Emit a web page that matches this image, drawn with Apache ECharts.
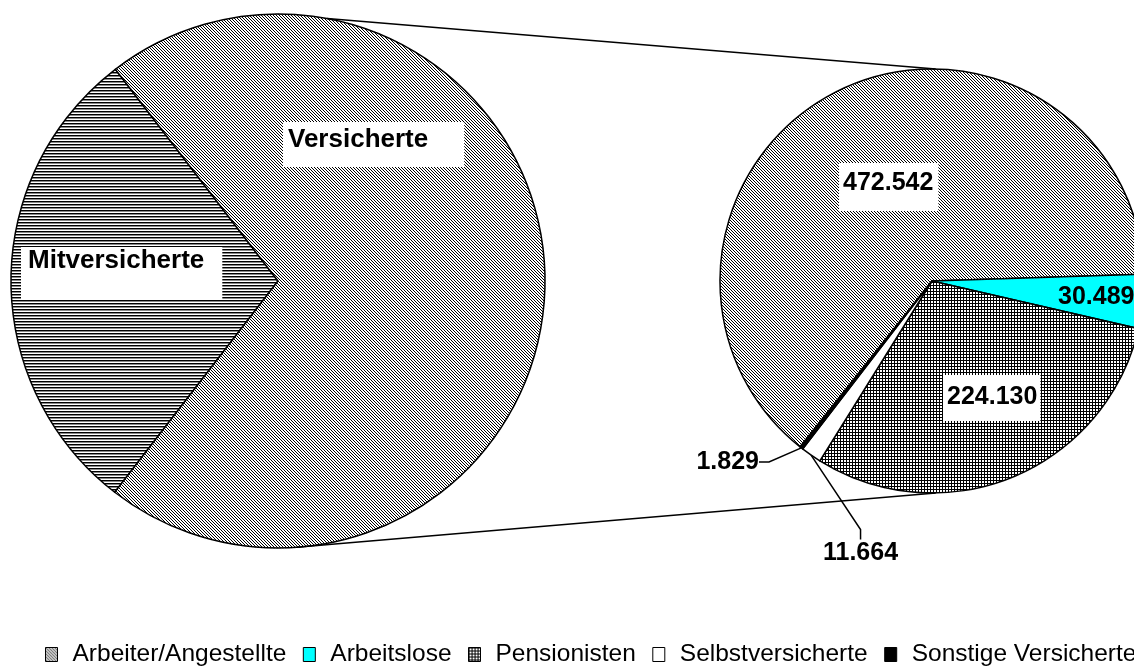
<!DOCTYPE html>
<html>
<head>
<meta charset="utf-8">
<script src="https://cdn.jsdelivr.net/npm/echarts@6/dist/echarts.min.js"></script>
<style>
  html, body { margin: 0; padding: 0; background: #fff; }
  #mychart { width: 1134px; height: 666px; }
</style>
</head>
<body>
<div id="mychart"></div>
<script>
// data
var mainNames = ['Mitversicherte', 'Versicherte'];
var mitValue = 304000;
var groupNames = ['Arbeiter/Angestellte', 'Arbeitslose', 'Pensionisten', 'Selbstversicherte', 'Sonstige Versicherte'];
var groupValues = [472542, 30489, 224130, 11664, 1829];

var versValue = 0;
for (var i = 0; i < groupValues.length; i++) versValue += groupValues[i];

// pie geometry
var leftCenter = [278, 281], leftR = 267;
var rightCenter = [932, 281], rightR = 212;

function tile(w, h, fn) {
    var c = document.createElement('canvas');
    c.width = w; c.height = h;
    var ctx = c.getContext('2d');
    ctx.fillStyle = '#fff';
    ctx.fillRect(0, 0, w, h);
    for (var y = 0; y < h; y++) {
        for (var x = 0; x < w; x++) {
            var col = fn(x, y);
            if (col) { ctx.fillStyle = col; ctx.fillRect(x, y, 1, 1); }
        }
    }
    return {image: c, repeat: 'repeat'};
}

var diagPat = tile(3, 3, function (x, y) { return (x - y + 3) % 3 === 0 ? '#000' : null; });
var horizPat = tile(1, 3, function (x, y) { return y === 0 ? '#000' : (y === 1 ? '#888' : null); });
var gridPat = tile(3, 3, function (x, y) { return (x === 0 || y === 0) ? '#000' : null; });

var groupColors = [diagPat, '#00ffff', gridPat, '#ffffff', '#000000'];

function fmt(v) {
    return String(v).replace(/\B(?=(\d{3})+(?!\d))/g, '.');
}

var FONT = 'Liberation Sans, Arial, sans-serif';
var nameFont = {fontFamily: FONT, fontWeight: 'bold', fontSize: 26, lineHeight: 28, color: '#000'};
var numFont = {fontFamily: FONT, fontWeight: 'bold', fontSize: 25, lineHeight: 27, color: '#000'};

function boxLabel(font, pad) {
    return Object.assign({
        show: true,
        position: 'inside',
        backgroundColor: '#fff',
        padding: pad
    }, font);
}

// label anchor spots (box top-left or text anchor)
var leftLabelPos = [
    {x: 21, y: 247, align: 'left', verticalAlign: 'top'},
    {x: 283, y: 122, align: 'left', verticalAlign: 'top'}
];
var rightLabelPos = [
    {x: 839, y: 163, align: 'left', verticalAlign: 'top'},
    {x: 1058, y: 297, align: 'left', verticalAlign: 'middle'},
    {x: 943, y: 375, align: 'left', verticalAlign: 'top'},
    {x: 823, y: 553, align: 'left', verticalAlign: 'middle'},
    {x: 759, y: 462, align: 'right', verticalAlign: 'middle'}
];

var leftData = [
    {name: mainNames[0], value: mitValue, itemStyle: {color: horizPat},
        label: Object.assign(boxLabel(nameFont, [0, 18, 24, 7]), {formatter: '{b}'})},
    {name: mainNames[1], value: versValue, itemStyle: {color: diagPat},
        label: Object.assign(boxLabel(nameFont, [4, 36, 13, 5]), {formatter: '{b}'})}
];

var rightPads = [[7, 5, 14, 4], null, [9, 3, 10, 4], null, null];
var rightData = groupNames.map(function (n, i) {
    var d = {name: n, value: groupValues[i], itemStyle: {color: groupColors[i]}};
    if (rightPads[i]) {
        d.label = boxLabel(numFont, rightPads[i]);
    } else if (i === 1) {
        d.label = Object.assign({show: true, position: 'inside'}, numFont);
    } else {
        d.label = Object.assign({show: true, position: 'outside'}, numFont);
        d.labelLine = {show: true, length: 20, length2: 10, lineStyle: {color: '#000', width: 1.5}};
    }
    return d;
});

function polar(c, r, deg) {
    var a = deg * Math.PI / 180;
    return [c[0] + r * Math.cos(a), c[1] - r * Math.sin(a)];
}

var topA = polar(leftCenter, leftR, 79.4), topB = polar(rightCenter, rightR, 89);
var botA = polar(leftCenter, leftR, -86), botB = polar(rightCenter, rightR, -89);

var option = {
    animation: false,
    backgroundColor: '#fff',
    legend: {
        data: groupNames,
        left: 45,
        top: 642,
        width: 1600,
        padding: 0,
        itemWidth: 12,
        itemHeight: 14,
        itemGap: 16.5,
        icon: 'rect',
        itemStyle: {borderColor: '#000', borderWidth: 1},
        textStyle: {fontFamily: FONT, fontSize: 24.5, color: '#000', padding: [0, 0, 0, 10]}
    },
    graphic: [
        {type: 'line', z: 100, shape: {x1: topA[0], y1: topA[1], x2: topB[0], y2: topB[1]}, style: {stroke: '#000', lineWidth: 1.5}},
        {type: 'line', z: 100, shape: {x1: botA[0], y1: botA[1], x2: botB[0], y2: botB[1]}, style: {stroke: '#000', lineWidth: 1.5}}
    ],
    series: [
        {
            type: 'pie',
            center: leftCenter,
            radius: leftR,
            startAngle: 232.3,
            clockwise: true,
            legendHoverLink: false,
            itemStyle: {borderColor: '#000', borderWidth: 1.5},
            labelLayout: function (p) { return leftLabelPos[p.dataIndex]; },
            data: leftData
        },
        {
            type: 'pie',
            center: rightCenter,
            radius: rightR,
            startAngle: 231.5,
            clockwise: true,
            itemStyle: {borderColor: '#000', borderWidth: 1.5},
            label: {formatter: function (p) { return fmt(p.value); }},
            labelLayout: function (p) { return rightLabelPos[p.dataIndex]; },
            data: rightData
        }
    ]
};

var mychart = echarts.init(document.getElementById('mychart'));
mychart.setOption(option);
</script>
</body>
</html>
